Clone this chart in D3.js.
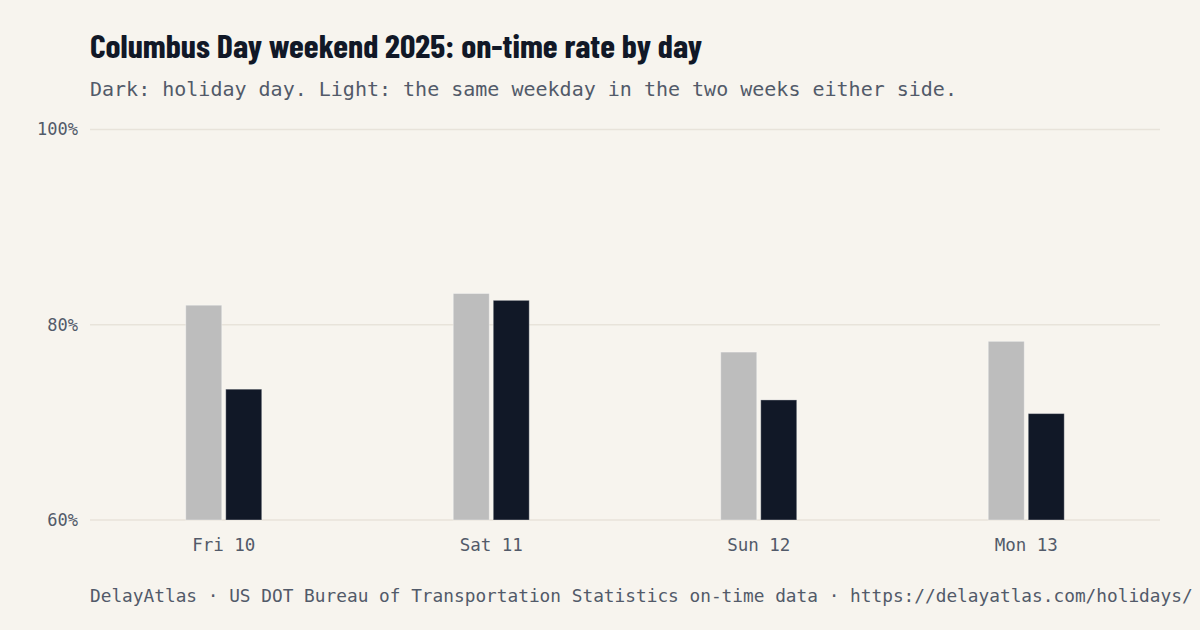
<!DOCTYPE html>
<html>
<head>
<meta charset="utf-8">
<script src="https://cdn.jsdelivr.net/npm/d3@7"></script>
<style>
    html, body { margin: 0; padding: 0; background: #f7f4ee; }
    svg { display: block; }
</style>
</head>
<body>
<div id="chart"></div>
<script>
// data
const days = ['Fri 10', 'Sat 11', 'Sun 12', 'Mon 13'];
const baseline = [82.0, 83.2, 77.2, 78.3];   // same weekday, two weeks either side
const holiday = [73.4, 82.5, 72.3, 70.9];    // holiday day
const yTicks = [60, 80, 100];

const TITLE = 'Columbus Day weekend 2025: on-time rate by day';
const SUBTITLE = 'Dark: holiday day. Light: the same weekday in the two weeks either side.';
const FOOTER = 'DelayAtlas · US DOT Bureau of Transportation Statistics on-time data · https://delayatlas.com/holidays/';

const WIDTH = 1200;
const HEIGHT = 630;
const BG = '#f7f4ee';
const INK = '#111827';
const GREY_TEXT = '#525a69';
const LIGHT_BAR = '#bdbdbd';
const GRID = '#e8e3da';
const MONO = "'DejaVu Sans Mono', 'Liberation Mono', monospace";
const COND = "'Barlow Condensed', 'Roboto Condensed', 'Roboto', 'Liberation Sans', sans-serif";

const plot = { left: 90, right: 1160, top: 129.5, bottom: 520 };
const GROUP_W = 76;

let svg = d3.select('#chart').append('svg')
    .attr('width', WIDTH)
    .attr('height', HEIGHT);

svg.append('rect').attr('width', WIDTH).attr('height', HEIGHT).attr('fill', BG);

// title, squeezed to look like a condensed face
svg.append('text')
    .attr('x', 90).attr('y', 58)
    .attr('fill', INK)
    .attr('font-family', COND)
    .attr('font-weight', 700)
    .attr('font-size', 33)
    .attr('textLength', 612)
    .attr('lengthAdjust', 'spacingAndGlyphs')
    .text(TITLE);

svg.append('text')
    .attr('x', 90).attr('y', 96)
    .attr('fill', GREY_TEXT)
    .attr('font-family', MONO)
    .attr('font-size', 20)
    .text(SUBTITLE);

// scales
let x0 = d3.scaleBand().domain(days).range([plot.left, plot.right]).padding(0);
let x1 = d3.scaleBand().domain(['base', 'holiday']).range([0, GROUP_W]).paddingInner(0.1);
let y = d3.scaleLinear().domain([60, 100]).range([plot.bottom, plot.top]);

// grid + y labels
let grid = svg.append('g');
grid.selectAll('line').data(yTicks).join('line')
    .attr('x1', plot.left).attr('x2', plot.right)
    .attr('y1', d => y(d)).attr('y2', d => y(d))
    .attr('stroke', GRID).attr('stroke-width', 1.5);

grid.selectAll('text').data(yTicks).join('text')
    .attr('x', 78).attr('y', d => y(d))
    .attr('dy', '0.35em')
    .attr('text-anchor', 'end')
    .attr('fill', GREY_TEXT)
    .attr('font-family', MONO)
    .attr('font-size', 17)
    .text(d => d + '%');

// bars
let rows = days.map((d, i) => ({ day: d, base: baseline[i], holiday: holiday[i] }));
let groups = svg.append('g').selectAll('g').data(rows).join('g')
    .attr('transform', d => `translate(${x0(d.day) + (x0.bandwidth() - GROUP_W) / 2},0)`);

groups.selectAll('rect')
    .data(d => [{ key: 'base', v: d.base }, { key: 'holiday', v: d.holiday }])
    .join('rect')
    .attr('x', d => x1(d.key))
    .attr('width', x1.bandwidth())
    .attr('y', d => y(d.v))
    .attr('height', d => y(60) - y(d.v))
    .attr('fill', d => d.key === 'base' ? LIGHT_BAR : INK)
    .attr('stroke', 'rgba(255,255,255,0.35)')
    .attr('stroke-width', 1);

// x labels
svg.append('g').selectAll('text').data(days).join('text')
    .attr('x', d => x0(d) + x0.bandwidth() / 2)
    .attr('y', 551)
    .attr('text-anchor', 'middle')
    .attr('fill', GREY_TEXT)
    .attr('font-family', MONO)
    .attr('font-size', 17.5)
    .text(d => d);

// footer, kept just inside the right edge
svg.append('text')
    .attr('x', 90).attr('y', 602)
    .attr('fill', GREY_TEXT)
    .attr('font-family', MONO)
    .attr('font-size', 17.8)
    .text(FOOTER);
</script>
</body>
</html>
